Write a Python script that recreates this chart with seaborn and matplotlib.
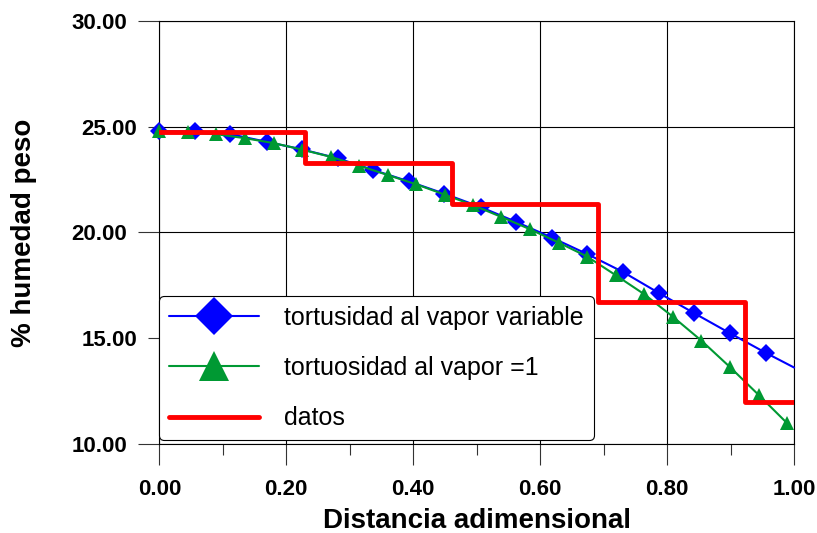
import numpy as np
import pandas as pd
import matplotlib.pyplot as plt
import seaborn as sns

# --- datos ---
# tortuosidad al vapor variable (el ultimo punto solo lleva linea)
x_var = [0.000, 0.056, 0.112, 0.169, 0.225, 0.281, 0.337, 0.393, 0.449, 0.506,
         0.562, 0.618, 0.674, 0.730, 0.787, 0.843, 0.899, 0.955, 1.000]
h_var = [24.78, 24.77, 24.64, 24.28, 23.92, 23.50, 22.95, 22.41, 21.83, 21.20,
         20.50, 19.76, 18.98, 18.14, 17.14, 16.18, 15.24, 14.32, 13.62]

# tortuosidad al vapor = 1
x_t1 = [0.000, 0.045, 0.090, 0.135, 0.180, 0.225, 0.270, 0.315, 0.360, 0.405,
        0.450, 0.494, 0.539, 0.584, 0.629, 0.674, 0.719, 0.764, 0.809, 0.854,
        0.899, 0.944, 0.989]
h_t1 = [24.78, 24.72, 24.64, 24.45, 24.22, 23.91, 23.57, 23.15, 22.71, 22.27,
        21.78, 21.29, 20.73, 20.15, 19.52, 18.86, 17.98, 17.08, 16.02, 14.89,
        13.64, 12.33, 10.99]

# datos medidos (escalones)
x_dat = [0.000, 0.230, 0.461, 0.691, 0.922, 1.000]
h_dat = [24.72, 23.30, 21.32, 16.72, 12.01, 12.01]

labels = ['tortusidad al vapor variable', 'tortuosidad al vapor =1', 'datos']
x_ticks = [0.0, 0.2, 0.4, 0.6, 0.8, 1.0]
y_major = [10, 20, 30]
y_minor = [15, 25]

sns.set_style('white')
plt.rcParams['font.family'] = ['Liberation Sans', 'DejaVu Sans']
plt.rcParams['text.color'] = 'black'
plt.rcParams['axes.labelcolor'] = 'black'
plt.rcParams['xtick.color'] = 'black'
plt.rcParams['ytick.color'] = 'black'

fig = plt.figure(figsize=(8.17, 5.33), dpi=100)
ax = fig.add_axes([0.195, 0.1666, 0.777, 0.7946])

sns.lineplot(x=x_var, y=h_var, ax=ax, estimator=None, sort=False,
             color='#0000ff', linewidth=1.5, marker='D', markersize=9,
             markeredgewidth=0, markevery=list(range(len(x_var) - 1)),
             clip_on=False, label=labels[0], zorder=3)
sns.lineplot(x=x_t1, y=h_t1, ax=ax, estimator=None, sort=False,
             color='#009933', linewidth=1.5, marker='^', markersize=10,
             markeredgewidth=0, clip_on=False, label=labels[1], zorder=4)
sns.lineplot(x=x_dat, y=h_dat, ax=ax, estimator=None, sort=False,
             color='#ff0000', linewidth=3.5, drawstyle='steps-post',
             label=labels[2], zorder=5)

ax.set_xlim(0, 1)
ax.set_ylim(10, 30)

ax.set_xticks(x_ticks, labels=[f'{v:.2f}' for v in x_ticks])
ax.set_xticks([0.1, 0.3, 0.5, 0.7, 0.9], minor=True)
ax.set_yticks(y_major, labels=[f'{v:.2f}' for v in y_major])
ax.set_yticks(y_minor, labels=[f'{v:.2f}' for v in y_minor], minor=True)

ax.tick_params(axis='both', which='both', bottom=True, left=True,
               top=False, right=False, direction='out', width=0.8,
               color='#333333', labelcolor='black', labelsize=16)
ax.tick_params(axis='both', which='major', length=15, pad=8)
ax.tick_params(axis='both', which='minor', length=8, pad=8)
ax.tick_params(axis='x', which='major', pad=10)
for lab in ax.get_xticklabels() + ax.get_yticklabels() + ax.get_yticklabels(minor=True):
    lab.set_fontweight('bold')

# rejilla en x cada 0.2 y en y cada 5
for v in x_ticks:
    ax.axvline(v, color='black', linewidth=0.8, zorder=1)
for v in y_major + y_minor:
    ax.axhline(v, color='black', linewidth=0.8, zorder=1)
for s in ax.spines.values():
    s.set_color('black')
    s.set_linewidth(0.8)

ax.set_xlabel('Distancia adimensional', fontsize=20, fontweight='bold', color='black')
ax.set_ylabel('% humedad peso', fontsize=20, fontweight='bold', color='black')
ax.xaxis.set_label_coords(0.5, -0.150)
ax.yaxis.set_label_coords(-0.193, 0.5)

leg = ax.legend(loc='upper left', bbox_to_anchor=(0.0, 0.35), borderaxespad=0,
                fontsize=18, numpoints=1, markerscale=2.2, handlelength=3.6,
                handletextpad=1.0, labelspacing=1.05, borderpad=0.4,
                fancybox=True, framealpha=1, edgecolor='black')
leg.get_frame().set_linewidth(0.8)
leg.set_zorder(6)
for t in leg.get_texts():
    t.set_color('black')

fig.savefig('out.png', dpi=100)
